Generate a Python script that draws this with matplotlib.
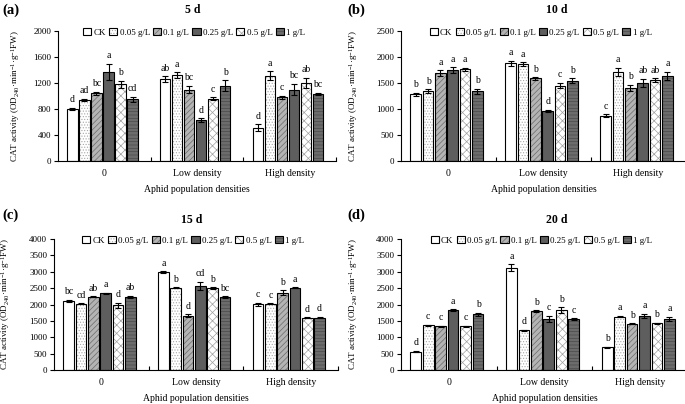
"""CAT activity under different aphid densities and treatment concentrations (4 panels)."""

import matplotlib
matplotlib.use("Agg")
import matplotlib.pyplot as plt
import numpy as np
from matplotlib.patches import Patch
from matplotlib.legend_handler import HandlerTuple

plt.rcParams["font.family"] = ["Liberation Serif", "DejaVu Serif"]
plt.rcParams["mathtext.fontset"] = "custom"
plt.rcParams["mathtext.rm"] = "Liberation Serif"
plt.rcParams["mathtext.it"] = "Liberation Serif:italic"
plt.rcParams["hatch.linewidth"] = 0.5

# ── data ─────────────────────────────────────────────────────────────────────
groups = ["0", "Low density", "High density"]
treatments = ["CK", "0.05 g/L", "0.1 g/L", "0.25 g/L", "0.5 g/L", "1 g/L"]

# one row per aphid density, one value per treatment
mean_5d = [[800, 945, 1040, 1370, 1180, 950],
           [1260, 1320, 1100, 630, 960, 1160],
           [510, 1310, 980, 1100, 1200, 1030]]
err_5d = [[20, 15, 25, 125, 55, 40],
          [45, 45, 55, 30, 20, 80],
          [55, 70, 25, 90, 80, 20]]
sig_5d = [["d", "ad", "bc", "a", "b", "cd"],
          ["ab", "a", "bc", "d", "c", "b"],
          ["d", "a", "c", "bc", "ab", "bc"]]

mean_10d = [[1280, 1340, 1690, 1750, 1760, 1340],
            [1880, 1860, 1590, 960, 1450, 1545],
            [870, 1710, 1410, 1500, 1555, 1640]]
err_10d = [[30, 40, 60, 50, 30, 50],
           [45, 35, 25, 25, 55, 50],
           [30, 80, 60, 80, 40, 75]]
sig_10d = [["b", "b", "a", "a", "a", "b"],
           ["a", "a", "b", "d", "c", "b"],
           ["c", "a", "b", "ab", "ab", "a"]]

mean_15d = [[2110, 2030, 2240, 2340, 1980, 2230],
            [2990, 2510, 1660, 2570, 2500, 2220],
            [2010, 2020, 2360, 2510, 1590, 1600]]
err_15d = [[40, 15, 20, 20, 80, 35],
           [20, 20, 50, 130, 25, 25],
           [50, 15, 80, 15, 15, 25]]
sig_15d = [["bc", "cd", "ab", "a", "d", "ab"],
           ["a", "b", "d", "cd", "b", "bc"],
           ["c", "c", "b", "a", "d", "d"]]

mean_20d = [[560, 1360, 1330, 1830, 1330, 1700],
            [3120, 1220, 1800, 1560, 1830, 1550],
            [690, 1630, 1410, 1660, 1430, 1560]]
err_20d = [[25, 15, 20, 25, 15, 50],
           [110, 15, 25, 100, 80, 30],
           [20, 20, 15, 60, 15, 70]]
sig_20d = [["d", "c", "c", "a", "c", "b"],
           ["a", "d", "b", "c", "b", "c"],
           ["b", "a", "b", "a", "b", "a"]]

# ── styles (face, hatch, hatch colour) ───────────────────────────────────────
styles = [("white", "", "black"),
          ("white", "......", "#a8a8a8"),
          ("#b4b4b4", "//////", "#6a6a6a"),
          ("#5e5e5e", "", "#5e5e5e"),
          ("white", "xxxx", "#a0a0a0"),
          ("#6c6c6c", "-----", "#4a4a4a")]

W, H = 685, 404
fig = plt.figure(figsize=(W / 100, H / 100), dpi=100)


def rect(left, top, right, bottom):
    return [left / W, 1 - bottom / H, (right - left) / W, (bottom - top) / H]


panels = [
    ("(a)", "5 d", mean_5d, err_5d, sig_5d, 2000, 400, rect(58, 31, 336, 161), (2, 10), (193, 10), -0.13),
    ("(b)", "10 d", mean_10d, err_10d, sig_10d, 2500, 500, rect(401, 31, 686, 161), (347, 10), (557, 10), -0.144),
    ("(c)", "15 d", mean_15d, err_15d, sig_15d, 4000, 500, rect(54, 239, 338, 370), (2, 215), (192, 220), -0.148),
    ("(d)", "20 d", mean_20d, err_20d, sig_20d, 4000, 500, rect(401, 239, 688, 370), (347, 215), (557, 220), -0.143),
]

bw = 0.112
step = 0.13
offsets = (np.arange(6) - 2.5) * step - 0.02

for tag, title, means, errs, sigs, ymax, ystep, pos, tag_xy, title_xy, ylab_x in panels:
    ax = fig.add_axes(pos)
    means = np.array(means)
    errs = np.array(errs)
    xg = np.arange(len(groups))
    for j, (face, hatch, hcol) in enumerate(styles):
        x = xg + offsets[j]
        h = means[:, j]
        e = errs[:, j]
        ax.bar(x, h, bw, color=face, hatch=hatch, edgecolor=hcol, linewidth=0, zorder=2)
        ax.bar(x, h, bw, fill=False, edgecolor="black", linewidth=0.8, zorder=3)
        ax.errorbar(x, h, yerr=e, fmt="none", ecolor="black", elinewidth=0.8,
                    capsize=2, capthick=0.8, zorder=4)
        for xi, hi, ei, s in zip(x, h, e, [row[j] for row in sigs]):
            ax.annotate(s, (xi, hi + ei), xytext=(0, 2.5), textcoords="offset points",
                        ha="center", va="bottom", fontsize=7)

    ax.set_xlim(-0.5, 2.5)
    ax.set_ylim(0, ymax)
    ax.set_yticks(np.arange(0, ymax + 1, ystep))
    ax.set_xticks(xg)
    ax.set_xticklabels(groups)
    ax.set_xticks([0.5, 1.5, 2.5], minor=True)
    ax.tick_params(axis="x", which="major", length=0, labelsize=7, pad=6)
    ax.tick_params(axis="x", which="minor", direction="in", length=3, width=0.8)
    ax.tick_params(axis="y", direction="out", length=3, width=0.8, labelsize=6.5, pad=2)
    for side in ("top", "right"):
        ax.spines[side].set_visible(False)
    for side in ("left", "bottom"):
        ax.spines[side].set_linewidth(0.8)

    ax.set_xlabel("Aphid population densities", fontsize=7)
    ax.xaxis.set_label_coords(0.5, -0.185)
    ax.set_ylabel(r"CAT activity (OD$_{240}$·min$^{-1}$·g$^{-1}$FW)", fontsize=6.5)
    ax.yaxis.set_label_coords(ylab_x, 0.5)

    handles = [(Patch(facecolor=f, hatch=hh, edgecolor=hc, linewidth=0),
                Patch(fill=False, edgecolor="black", linewidth=0.8))
               for f, hh, hc in styles]
    ax.legend(handles, treatments, handler_map={tuple: HandlerTuple(ndivide=1)},
              loc="center", bbox_to_anchor=(0.49, 0.99), ncol=6, frameon=False,
              fontsize=6.5, handlelength=0.9, handleheight=0.9, handletextpad=0.25,
              columnspacing=0.35, borderaxespad=0)

    fig.text(title_xy[0] / W, 1 - title_xy[1] / H, title, ha="center", va="center",
             fontsize=8.5, fontweight="bold")
    fig.text(tag_xy[0] / W, 1 - tag_xy[1] / H, tag, ha="left", va="center",
             fontsize=10.5, fontweight="bold")

fig.savefig("out.png", dpi=100)
